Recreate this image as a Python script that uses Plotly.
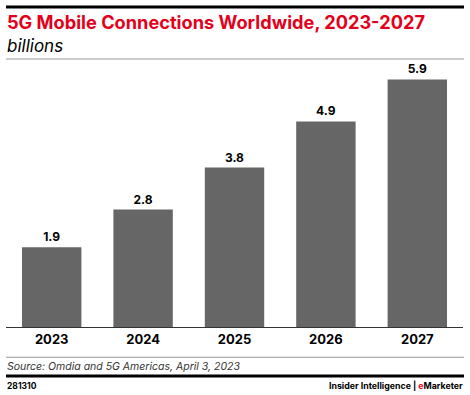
import plotly.graph_objects as go

years = ["2023", "2024", "2025", "2026", "2027"]
connections = [1.9, 2.8, 3.8, 4.9, 5.9]
value_labels = ["1.9", "2.8", "3.8", "4.9", "5.9"]

W, H = 470, 395
ML, MR, MT, MB = 6, 7, 65, 68
PW = W - ML - MR
PH = H - MT - MB
PX_PER_UNIT = 41.95
YMAX = PH / PX_PER_UNIT

def px(x):
    return (x - ML) / PW

def py(y):
    return (H - MB - y) / PH

FONT = "Inter, Roboto, Arial, sans-serif"

fig = go.Figure()
fig.add_trace(go.Bar(
    x=years, y=connections,
    marker=dict(color="#666666", line=dict(width=0)),
    text=value_labels, textposition="outside",
    textfont=dict(family=FONT, size=12, color="#000000", weight="bold"),
    cliponaxis=False, width=0.65,
))

def hrule(y0, y1, color):
    return dict(type="rect", xref="paper", yref="paper", x0=px(6), x1=px(464),
                y0=py(y0), y1=py(y1), fillcolor=color, line=dict(width=0), layer="above")

shapes = [
    hrule(5.5, 8.5, "#000000"),
    hrule(58.5, 59.5, "#999999"),
    hrule(356.8, 357.8, "#999999"),
    hrule(374.5, 377.5, "#000000"),
]

def ann(text, x, y, size, color="#000000", xanchor="left", bold=False, italic=False):
    return dict(text=text, xref="paper", yref="paper", x=px(x), y=py(y), xanchor=xanchor,
                yanchor="middle", showarrow=False,
                font=dict(family=FONT, size=size, color=color,
                          weight="bold" if bold else "normal",
                          style="italic" if italic else "normal"))

annotations = [
    ann("5G Mobile Connections Worldwide, 2023-2027", 5, 22, 18.2, color="#e3001b", bold=True),
    ann("billions", 5, 46, 17, color="#000000", italic=True),
    ann("Source: Omdia and 5G Americas, April 3, 2023", 5, 366, 10.5, color="#333333", italic=True),
    ann("281310", 5, 385.5, 8.5, color="#000000", bold=True),
    ann("Insider Intelligence | <span style='color:#e3001b'>e</span>Marketer", 465, 385.5, 8.8,
        color="#000000", xanchor="right", bold=True),
]

fig.update_layout(
    width=W, height=H,
    margin=dict(l=ML, r=MR, t=MT, b=MB),
    paper_bgcolor="#ffffff", plot_bgcolor="#ffffff",
    showlegend=False,
    shapes=shapes, annotations=annotations,
    xaxis=dict(type="category", range=[-0.5, 4.5], showline=True, linecolor="#333333", linewidth=1,
               ticks="", showgrid=False,
               tickfont=dict(family=FONT, size=13, color="#000000", weight="bold")),
    yaxis=dict(range=[0, YMAX], visible=False, showgrid=False, zeroline=False),
)

fig.write_html("out.html", config={"displayModeBar": False},
               post_script="document.body.style.margin='0';document.body.style.padding='0';")
